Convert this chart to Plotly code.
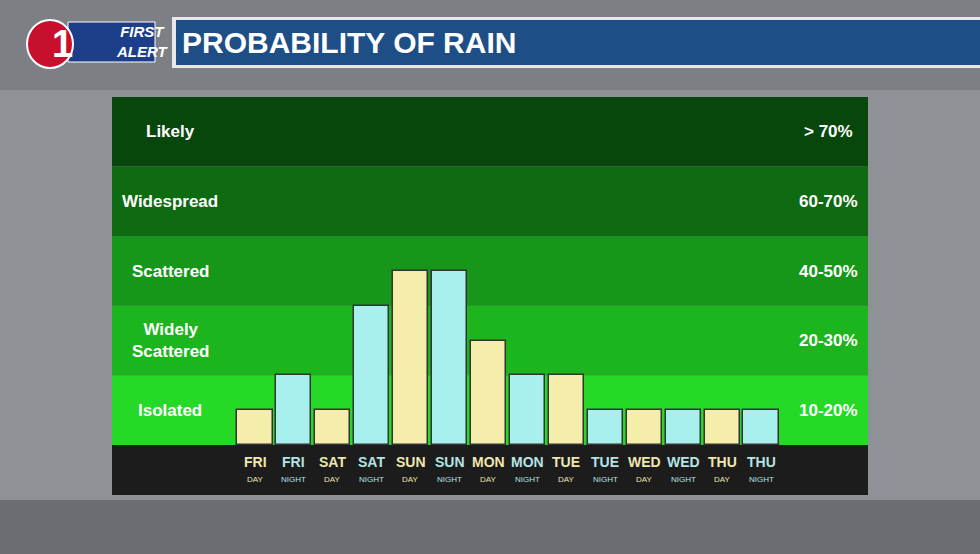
import plotly.graph_objects as go

# data
days = ["FRI", "FRI", "SAT", "SAT", "SUN", "SUN", "MON", "MON", "TUE", "TUE", "WED", "WED", "THU", "THU"]
periods = ["DAY", "NIGHT"] * 7
rain_pct = [10, 20, 10, 40, 50, 50, 30, 20, 20, 10, 10, 10, 10, 10]
band_names = ["Isolated", "Widely<br>Scattered", "Scattered", "Widespread", "Likely"]
band_ranges = ["10-20%", "20-30%", "40-50%", "60-70%", "> 70%"]
band_colors = ["#26d926", "#1db51d", "#16971a", "#0e6b12", "#08470b"]

W, H = 980, 554
def px(x): return x / W
def py(y): return 1 - y / H

x = list(range(len(rain_pct)))
bar_colors = ["#f5eeaa" if p == "DAY" else "#a8f0ee" for p in periods]
tick_colors = ["#efe7b0" if p == "DAY" else "#b6e4e6" for p in periods]

fig = go.Figure()
fig.add_trace(go.Bar(x=x, y=rain_pct, width=0.9, marker=dict(color=bar_colors, line=dict(color="#333", width=1.5))))

shapes = []
# background
shapes.append(dict(type="rect", xref="paper", yref="paper", x0=0, x1=1, y0=0, y1=py(500),
                   fillcolor="#6a6d72", line_width=0, layer="below"))
shapes.append(dict(type="rect", xref="paper", yref="paper", x0=0, x1=1, y0=py(90), y1=1,
                   fillcolor="#7c7f84", line_width=0, layer="below"))
# bands
for i, c in enumerate(band_colors):
    shapes.append(dict(type="rect", xref="paper", yref="y", x0=px(112), x1=px(868),
                       y0=i * 20, y1=(i + 1) * 20, fillcolor=c, line_width=0, layer="below"))
# label strip
shapes.append(dict(type="rect", xref="paper", yref="paper", x0=px(112), x1=px(868),
                   y0=py(495), y1=py(445), fillcolor="#1c1c1c", line_width=0, layer="below"))
# header bar
shapes.append(dict(type="rect", xref="paper", yref="paper", x0=px(172), x1=1.0,
                   y0=py(68), y1=py(17), fillcolor="#e8e8ea", line_width=0))
shapes.append(dict(type="rect", xref="paper", yref="paper", x0=px(176), x1=1.0,
                   y0=py(65), y1=py(20), fillcolor="#1d4e86", line_width=0))
# logo
shapes.append(dict(type="rect", xref="paper", yref="paper", x0=px(68), x1=px(155),
                   y0=py(62), y1=py(22), fillcolor="#1d3f8a", line=dict(color="white", width=1)))
shapes.append(dict(type="circle", xref="paper", yref="paper", x0=px(27), x1=px(73),
                   y0=py(68), y1=py(20), fillcolor="#c8102e", line=dict(color="white", width=2)))

font = "Liberation Sans"
ann = []
for i, (n, r) in enumerate(zip(band_names, band_ranges)):
    ann.append(dict(x=px(170), y=i * 20 + 10, xref="paper", yref="y", text="<b>" + n + "</b>", showarrow=False,
                    font=dict(family=font, size=17, color="white"), xanchor="center", yanchor="middle"))
    ann.append(dict(x=px(828), y=i * 20 + 10, xref="paper", yref="y", text="<b>" + r + "</b>", showarrow=False,
                    font=dict(family=font, size=17, color="white"), xanchor="center", yanchor="middle"))
for i in x:
    ann.append(dict(x=i, y=py(462), xref="x", yref="paper", text="<b>" + days[i] + "</b>", showarrow=False,
                    font=dict(family=font, size=14, color=tick_colors[i]), yanchor="middle"))
    ann.append(dict(x=i, y=py(479), xref="x", yref="paper", text=periods[i], showarrow=False,
                    font=dict(family=font, size=8, color=tick_colors[i]), yanchor="middle"))
ann.append(dict(x=px(180), y=py(43), xref="paper", yref="paper", text="<b>PROBABILITY OF RAIN</b>",
                showarrow=False, xanchor="left", yanchor="middle", font=dict(family=font, size=30, color="white")))
ann.append(dict(x=px(50), y=py(44), xref="paper", yref="paper", text="<b>1</b>", showarrow=False, yanchor="middle",
                font=dict(family=font, size=38, color="white")))
ann.append(dict(x=px(114), y=py(42), xref="paper", yref="paper", text="<b><i>FIRST<br>ALERT</i></b>",
                showarrow=False, yanchor="middle", font=dict(family=font, size=15, color="white")))

spacing = (761 - 255) / 13
fig.update_layout(
    width=W, height=H, margin=dict(l=0, r=0, t=0, b=0),
    paper_bgcolor="#8e9195", plot_bgcolor="rgba(0,0,0,0)",
    showlegend=False, bargap=0, shapes=shapes, annotations=ann,
    xaxis=dict(domain=[px(112), px(868)], range=[(112 - 255) / spacing, (868 - 255) / spacing],
               showgrid=False, zeroline=False, showticklabels=False, fixedrange=True),
    yaxis=dict(domain=[py(445), py(97)], range=[0, 100], showgrid=False, zeroline=False,
               showticklabels=False, fixedrange=True),
)
fig.write_html("out.html", config={"displayModeBar": False},
               post_script="document.body.style.margin='0';document.body.style.overflow='hidden';")
